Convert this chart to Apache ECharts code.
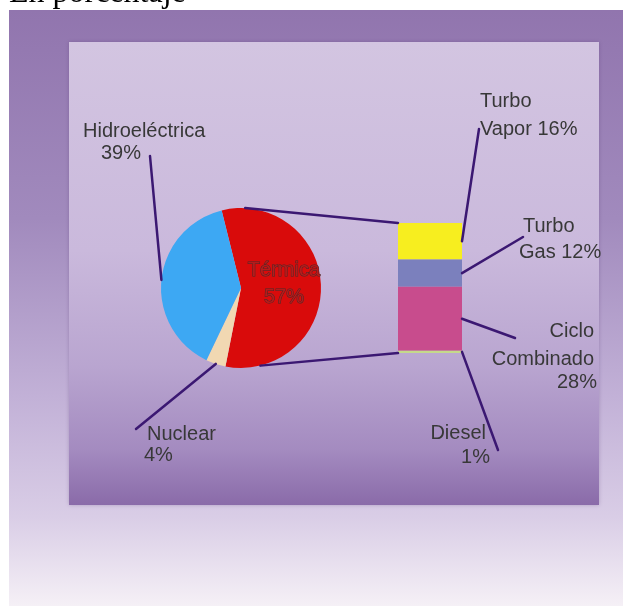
<!DOCTYPE html>
<html>
<head>
<meta charset="utf-8">
<script src="https://cdn.jsdelivr.net/npm/echarts@6/dist/echarts.min.js"></script>
<style>
  html, body { margin: 0; padding: 0; background: #ffffff; }
  #chart { width: 623px; height: 606px; }
</style>
</head>
<body>
<div id="chart"></div>
<script>
// Generación eléctrica por fuente (%)
const sources = ['Térmica', 'Nuclear', 'Hidroeléctrica'];
const sourceShares = [57, 4, 39];

// Desglose de la generación térmica (de arriba hacia abajo en la barra)
const thermalTypes = ['Turbo Vapor', 'Turbo Gas', 'Ciclo Combinado', 'Diesel'];
const thermalShares = [16, 12, 28, 1];

const titleText = 'En porcentaje';

// ---- styling / layout ----
const sourceColors = ['#d90b0b', '#f1d8b2', '#3da8f3'];
const thermalColors = ['#f7ee1f', '#7b80bd', '#c84c8d', '#c5d98b'];
const LINE_COLOR = '#3b1872';
const TEXT_COLOR = '#383838';
const FONT_FAMILY = '"Liberation Sans", Arial, sans-serif';
const FONT = '20px ' + FONT_FAMILY;

const PIE_CENTER = [241, 288];
const PIE_RADIUS = 80;
const PIE_START = 104;            // degrees, counter-clockwise from 3 o'clock
const PIE_LINK_ANGLES = [87, -76]; // where the connectors leave the pie rim
const BAR_BOX = { left: 398, top: 223, width: 64, height: 130 };

// label rows: [x, y] per text row; lineTo = end of the leader line
const labelLayout = {
  'Hidroeléctrica':  { rows: [[83, 131], [101, 153]], align: 'left', lineTo: [150, 156] },
  'Nuclear':         { rows: [[147, 434], [144, 455]], align: 'left', lineTo: [136, 429] },
  'Turbo Vapor':     { rows: [[480, 101], [480, 129]], align: 'left', inline: true, lineTo: [479, 129] },
  'Turbo Gas':       { rows: [[523, 226], [519, 252]], align: 'left', inline: true, lineTo: [523, 237] },
  'Ciclo Combinado': { rows: [[594, 331], [594, 359], [597, 382]], align: 'right', lineTo: [515, 338] },
  'Diesel':          { rows: [[486, 433], [490, 457]], align: 'right', lineTo: [498, 450] }
};

const chart = echarts.init(document.getElementById('chart'), null, { renderer: 'canvas' });

const thermalMax = thermalShares.reduce((a, b) => a + b, 0);

const option = {
  animation: false,
  backgroundColor: '#ffffff',
  grid: {
    left: BAR_BOX.left, top: BAR_BOX.top,
    width: BAR_BOX.width, height: BAR_BOX.height,
    containLabel: false
  },
  xAxis: {
    type: 'category', data: [sources[0]], show: false, boundaryGap: true
  },
  yAxis: {
    type: 'value', min: 0, max: thermalMax, inverse: true, show: false
  },
  series: [
    {
      type: 'pie',
      silent: true,
      center: PIE_CENTER,
      radius: PIE_RADIUS,
      startAngle: PIE_START,
      clockwise: true,
      avoidLabelOverlap: false,
      z: 3,
      label: { show: false },
      labelLine: { show: false },
      emphasis: { disabled: true },
      data: sources.map((name, i) => ({
        name,
        value: sourceShares[i],
        itemStyle: { color: sourceColors[i] },
        label: i === 0 ? {
          show: true,
          position: 'inside',
          formatter: '{b}\n{c}%',
          fontSize: 20,
          fontFamily: FONT_FAMILY,
          color: '#b41c1c',
          textBorderColor: '#4a2a2a',
          textBorderWidth: 1,
          lineHeight: 27,
          offset: [0, -3]
        } : { show: false }
      }))
    }
  ].concat(thermalTypes.map((name, i) => ({
    type: 'bar',
    name,
    stack: 'termica',
    silent: true,
    barWidth: '100%',
    barCategoryGap: '0%',
    itemStyle: { color: thermalColors[i] },
    emphasis: { disabled: true },
    data: [thermalShares[i]]
  })))
};

chart.setOption(option);

// ---- annotations computed from the drawn geometry ----
const rad = d => d * Math.PI / 180;
const rimPoint = deg => [
  PIE_CENTER[0] + PIE_RADIUS * Math.cos(rad(deg)),
  PIE_CENTER[1] - PIE_RADIUS * Math.sin(rad(deg))
];

const gfx = [];

// backdrop: outer frame and inner panel
gfx.push({
  type: 'rect', z: -20, silent: true,
  shape: { x: 9, y: 10, width: 614, height: 596 },
  style: {
    fill: new echarts.graphic.LinearGradient(0, 0, 0, 1, [
      { offset: 0, color: '#9175ae' },
      { offset: 0.35, color: '#a18abd' },
      { offset: 0.65, color: '#c2b1d7' },
      { offset: 0.85, color: '#d9cde6' },
      { offset: 1, color: '#f5f0f6' }
    ])
  }
});
gfx.push({
  type: 'rect', z: -19, silent: true,
  shape: { x: 69, y: 42, width: 530, height: 463 },
  style: {
    fill: new echarts.graphic.LinearGradient(0, 0, 0, 1, [
      { offset: 0, color: '#d3c5e1' },
      { offset: 0.45, color: '#cab9dc' },
      { offset: 0.7, color: '#b9a5d0' },
      { offset: 0.88, color: '#a48bc0' },
      { offset: 1, color: '#8a6ba9' }
    ]),
    shadowColor: 'rgba(60,30,90,0.25)',
    shadowBlur: 4
  }
});

// title
gfx.push({
  type: 'text', z: 5, silent: true,
  style: {
    text: titleText, x: 9, y: -6,
    font: '32px "Liberation Serif", "Times New Roman", serif',
    fill: '#000000',
    textAlign: 'left', align: 'left',
    textVerticalAlign: 'middle', verticalAlign: 'middle'
  }
});

function addLine(p1, p2) {
  gfx.push({
    type: 'line', z: 10, silent: true,
    shape: { x1: p1[0], y1: p1[1], x2: p2[0], y2: p2[1] },
    style: { stroke: LINE_COLOR, lineWidth: 2.5, lineCap: 'round' }
  });
}

function addLabel(name, value) {
  const lay = labelLayout[name];
  const words = name.split(' ');
  const rows = lay.inline
    ? words.slice(0, -1).concat([words[words.length - 1] + ' ' + value + '%'])
    : words.concat([value + '%']);
  rows.forEach((txt, r) => {
    gfx.push({
      type: 'text', z: 11, silent: true,
      style: {
        text: txt, x: lay.rows[r][0], y: lay.rows[r][1],
        font: FONT, fill: TEXT_COLOR,
        textAlign: lay.align, align: lay.align,
        textVerticalAlign: 'middle', verticalAlign: 'middle'
      }
    });
  });
}

// pie leader lines (from each slice's mid-angle on the rim)
const sourceTotal = sourceShares.reduce((a, b) => a + b, 0);
let ang = PIE_START;
sources.forEach((name, i) => {
  const span = sourceShares[i] / sourceTotal * 360;
  const mid = ang - span / 2;
  ang -= span;
  if (labelLayout[name]) {
    addLine(rimPoint(mid), labelLayout[name].lineTo);
    addLabel(name, sourceShares[i]);
  }
});

// connectors from the pie to the stacked bar
const barLeft = BAR_BOX.left;
const barRight = BAR_BOX.left + BAR_BOX.width;
const yTop = chart.convertToPixel({ yAxisIndex: 0 }, 0);
const yBottom = chart.convertToPixel({ yAxisIndex: 0 }, thermalMax);
addLine(rimPoint(PIE_LINK_ANGLES[0]), [barLeft, yTop]);
addLine(rimPoint(PIE_LINK_ANGLES[1]), [barLeft, yBottom]);

// bar segment leader lines
let cum = 0;
thermalTypes.forEach((name, i) => {
  const midY = chart.convertToPixel({ yAxisIndex: 0 }, cum + thermalShares[i] / 2);
  cum += thermalShares[i];
  addLine([barRight, midY], labelLayout[name].lineTo);
  addLabel(name, thermalShares[i]);
});

chart.setOption({ graphic: { elements: gfx } });
</script>
</body>
</html>
